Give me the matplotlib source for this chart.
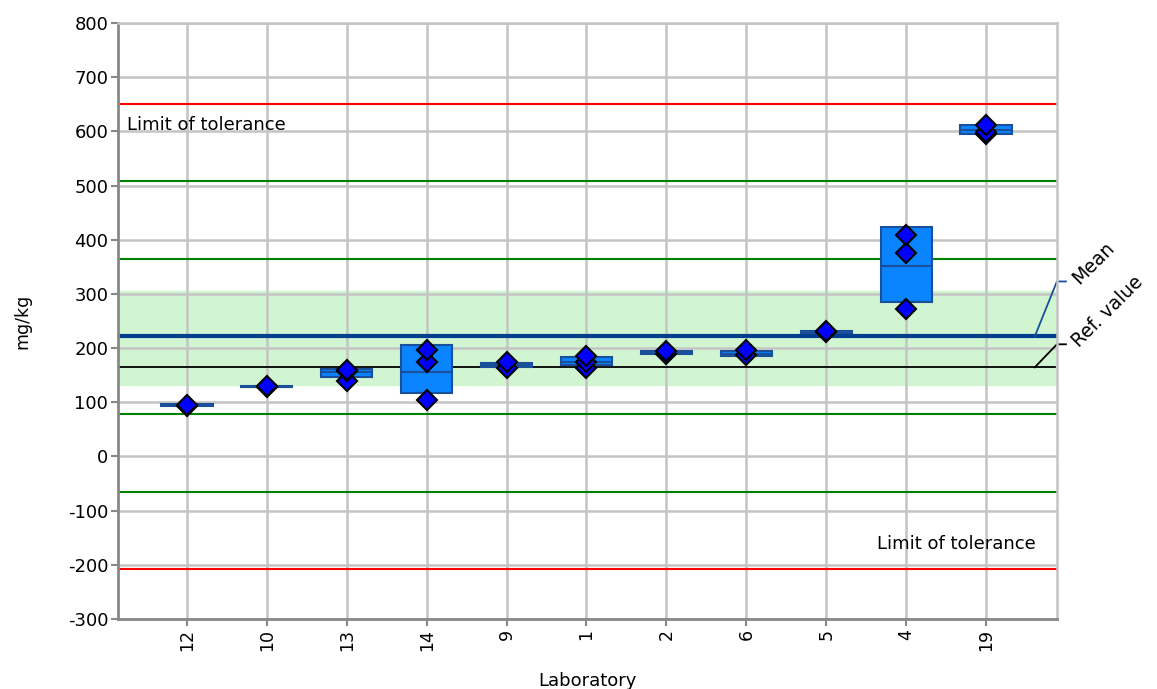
import numpy as np
import matplotlib.pyplot as plt

plt.rcParams['font.family'] = ['DejaVu Sans']
plt.rcParams['axes.unicode_minus'] = False

labs = ['12', '10', '13', '14', '9', '1', '2', '6', '5', '4', '19']
# box statistics per laboratory (lower quartile, median, upper quartile)
q1 = [94, 129, 147, 117, 165, 168, 190, 186, 228, 286, 596]
med = [95, 129, 155, 156, 169, 174, 191, 190, 229, 352, 603]
q3 = [96, 130, 161, 205, 172, 183, 194, 195, 231, 423, 611]
# individual results
results = [[94, 95], [129, 130], [140, 157, 160], [105, 175, 197],
           [163, 174], [164, 175, 185], [190, 195], [187, 197],
           [229, 231], [272, 376, 408], [595, 599, 611]]

mean_val = 221.5
ref_val = 164.5
sd = 143.3
band = (131, 306)

fig = plt.figure(figsize=(11.57, 6.89), dpi=100)
ax = fig.add_axes([0.102, 0.1016, 0.8115, 0.865])

x = np.arange(len(labs))
ax.set_xlim(-0.8625, 10.8875)
ax.set_ylim(-300, 800)

ax.axhspan(band[0], band[1], color='#d0f5d0', zorder=0)
ax.set_yticks(np.arange(-300, 801, 100))
ax.set_xticks(x)
ax.set_xticklabels(labs, rotation=90, fontsize=12.5)
ax.tick_params(axis='y', labelsize=13)
ax.grid(True, color='#c4c4c4', linewidth=1.8, zorder=1)
ax.set_axisbelow(True)
ax.tick_params(color='#888888', length=5, width=1.5, pad=2)
for s in ['left', 'bottom']:
    ax.spines[s].set_color('#888888')
    ax.spines[s].set_linewidth(2)
for s in ['right', 'top']:
    ax.spines[s].set_color('#c4c4c4')
    ax.spines[s].set_linewidth(1.8)

# limit lines
for k, c in [(1, 'green'), (2, 'green'), (3, 'red')]:
    ax.axhline(mean_val + k * sd, color=c, linewidth=1.5, zorder=2)
    ax.axhline(mean_val - k * sd, color=c, linewidth=1.5, zorder=2)
ax.axhline(ref_val, xmax=0.998, color='black', linewidth=1.3, zorder=2)
ax.axhline(mean_val, xmax=0.998, color='#003f8f', linewidth=3, zorder=2)

# boxes
q1a, meda, q3a = np.array(q1), np.array(med), np.array(q3)
ax.bar(x, q3a - q1a, bottom=q1a, width=0.64, color='#0a84ff',
       edgecolor='#1a4f9a', linewidth=1.5, zorder=3)
ax.hlines(meda, x - 0.32, x + 0.32, color='#1a4f9a', linewidth=1.5, zorder=4)

for i, r in enumerate(results):
    ax.plot([x[i]] * len(r), r, 'D', color='#0000ff', markeredgecolor='black',
            markeredgewidth=1.5, markersize=10, zorder=5)

ax.text(-0.75, 612, 'Limit of tolerance', fontsize=13, va='center', ha='left')
ax.text(10.62, -162, 'Limit of tolerance', fontsize=13, va='center', ha='right')

# leader labels on the right
ax.plot([10.61, 10.8875, 11.0], [mean_val, 323, 323], color='#1a4f9a',
        linewidth=1.3, clip_on=False)
ax.plot([10.61, 10.8875, 11.0], [ref_val, 207, 207], color='black',
        linewidth=1.3, clip_on=False)
ax.text(11.12, 323, 'Mean', rotation=45, rotation_mode='anchor',
        ha='left', va='center', fontsize=13.5)
ax.text(11.12, 207, 'Ref. value', rotation=45, rotation_mode='anchor',
        ha='left', va='center', fontsize=13.5)

ax.set_ylabel('mg/kg', fontsize=12.5, labelpad=26)
ax.set_xlabel('Laboratory', fontsize=13, labelpad=15)

fig.savefig('out.png', dpi=100)
